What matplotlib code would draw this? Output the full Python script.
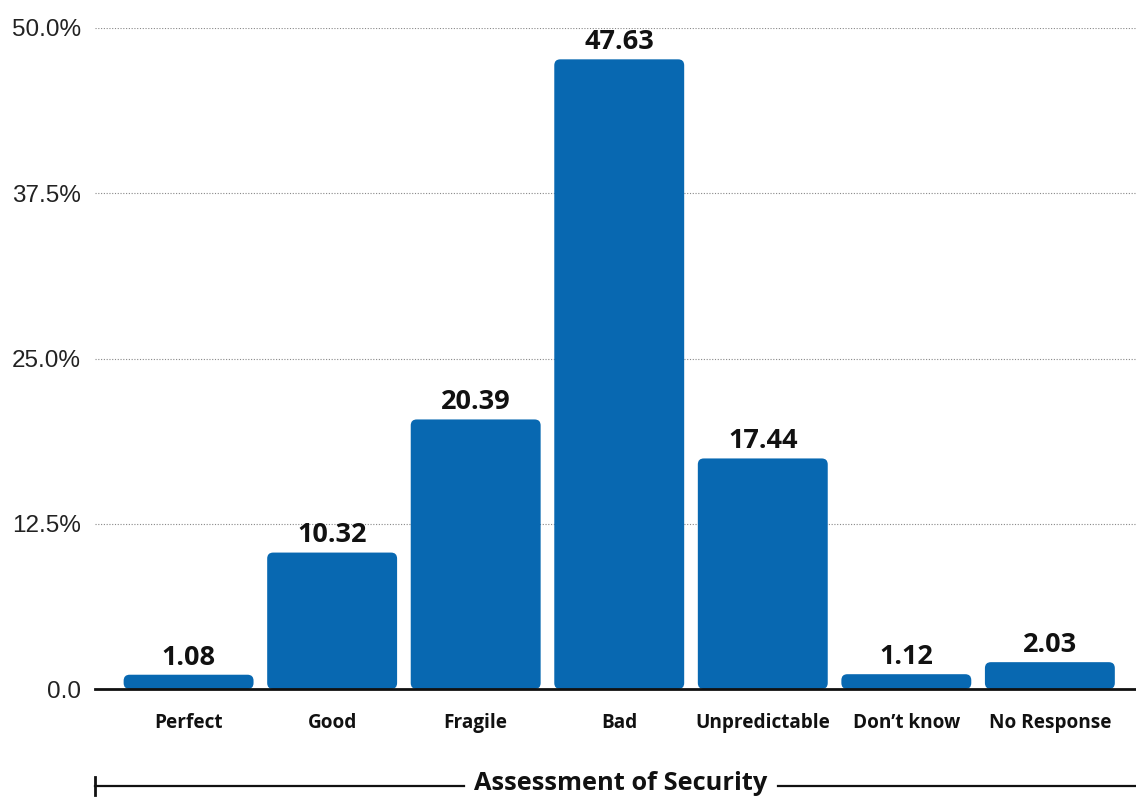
import matplotlib
matplotlib.use("Agg")
import matplotlib.pyplot as plt
from matplotlib.patches import FancyBboxPatch
from matplotlib.lines import Line2D

categories = ["Perfect", "Good", "Fragile", "Bad", "Unpredictable", "Don\u2019t know", "No Response"]
values = [1.08, 10.32, 20.39, 47.63, 17.44, 1.12, 2.03]
ytick_values = [0, 12.5, 25, 37.5, 50]
ytick_labels = ["0.0", "12.5%", "25.0%", "37.5%", "50.0%"]
xlabel = "Assessment of Security"

BAR_COLOR = "#0868b1"
BOLD_FONT = ["Open Sans", "DejaVu Sans"]
TICK_FONT = ["Liberation Sans", "DejaVu Sans"]

W, H = 1136, 797
fig = plt.figure(figsize=(W / 100, H / 100), dpi=100)
ax = fig.add_axes([95 / W, 1 - 689 / H, 1 - 95 / W, (689 - 28) / H])

x = list(range(len(categories)))
bars = ax.bar(x, values, width=0.905, color=BAR_COLOR, zorder=2)

ax.set_xlim(-0.652, 6.60)
ax.set_ylim(0, 50)

# rounded bars: replace each rectangle with a rounded box of the same extent
px_x = ax.transData.transform((1, 0))[0] - ax.transData.transform((0, 0))[0]
px_y = ax.transData.transform((0, 1))[1] - ax.transData.transform((0, 0))[1]
radius_px = 6
for rect in bars:
    rect.set_visible(False)
    bx, by = rect.get_x(), rect.get_y()
    bw, bh = rect.get_width(), rect.get_height()
    r = min(radius_px / px_x, (bh * px_y / 2) / px_x)
    patch = FancyBboxPatch((bx, by), bw, bh,
                           boxstyle=f"round,pad=0,rounding_size={r}",
                           mutation_aspect=px_x / px_y,
                           facecolor=BAR_COLOR, edgecolor="none", zorder=2)
    ax.add_patch(patch)

# value labels above bars
for xi, v in zip(x, values):
    ax.annotate(f"{v:.2f}", (xi, v), xytext=(0, 3), textcoords="offset points",
                ha="center", va="bottom", fontsize=19.5, fontweight="bold",
                family=BOLD_FONT, color="#111111", clip_on=False, zorder=3)

# grid and axes styling
ax.set_yticks(ytick_values)
ax.set_yticklabels(ytick_labels, family=TICK_FONT, fontsize=17.5, color="#222222")
for yv in ytick_values[1:]:
    ax.axhline(yv, color="#888888", linestyle=(0, (1, 1.5)), linewidth=0.8, zorder=1)
ax.axhline(0, color="#111111", linewidth=2, zorder=3, clip_on=False)

ax.set_xticks(x)
ax.set_xticklabels(categories, family=BOLD_FONT, fontsize=13.7, fontweight="bold", color="#111111")
ax.tick_params(axis="both", length=0)
ax.tick_params(axis="x", pad=17)
ax.tick_params(axis="y", pad=10)
for s in ax.spines.values():
    s.set_visible(False)

# axis title with rules on both sides
title = fig.text(621 / W, 1 - 783 / H, xlabel, ha="center", va="center",
                 fontsize=18.3, fontweight="bold", family=BOLD_FONT, color="#111111")
fig.canvas.draw()
bb = title.get_window_extent()
line_y = 1 - 786 / H
gap = 10
left = 95 / W
fig.add_artist(Line2D([left, (bb.x0 - gap) / W], [line_y, line_y], color="#111111", linewidth=1.6))
fig.add_artist(Line2D([(bb.x1 + gap) / W, 1.0], [line_y, line_y], color="#111111", linewidth=1.6))
fig.add_artist(Line2D([left, left], [1 - 777 / H, 1 - 795 / H], color="#111111", linewidth=2))

fig.savefig("out.png", dpi=100)
